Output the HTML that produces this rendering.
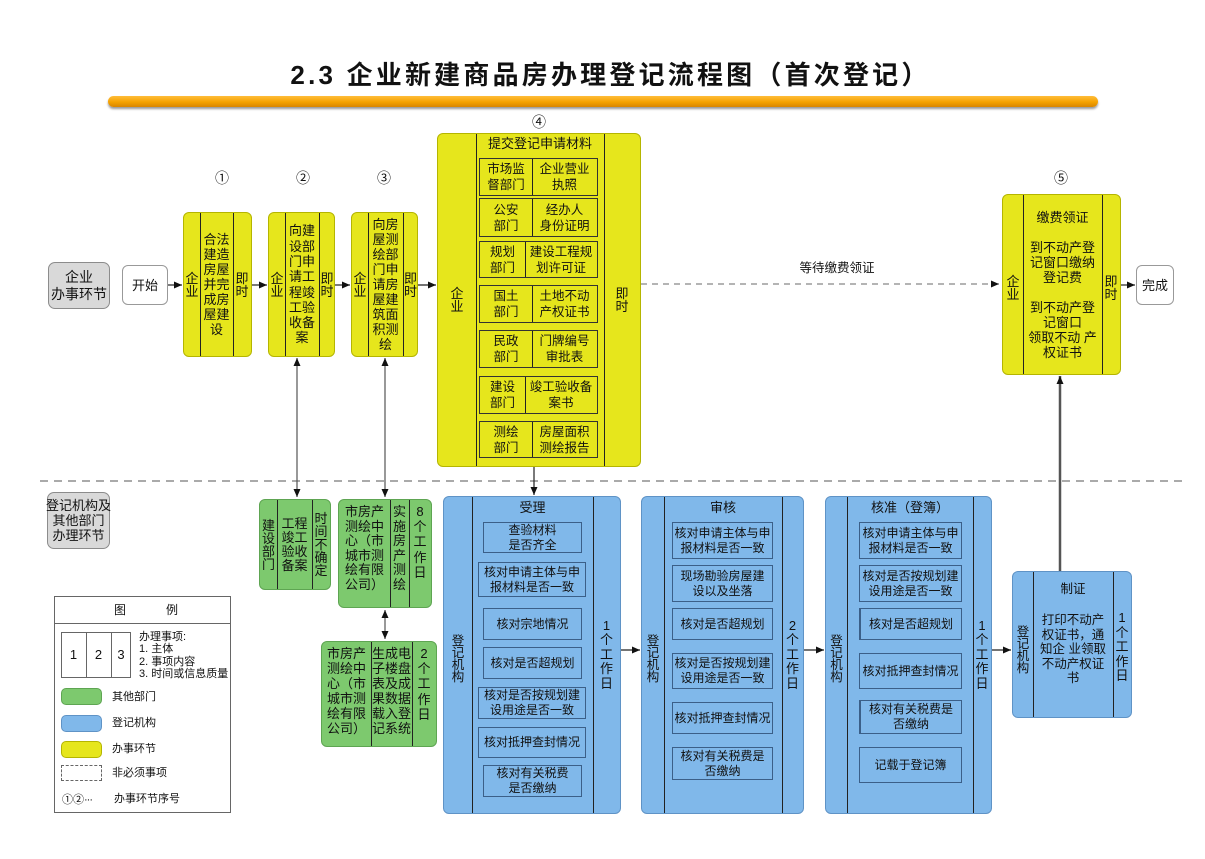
<!DOCTYPE html>
<html><head><meta charset="utf-8">
<style>
body{margin:0;width:1205px;height:859px;background:#fff;position:relative;overflow:hidden;font-family:"Liberation Sans","Noto Sans CJK SC",sans-serif;color:#111}
.a{position:absolute}
.b{position:absolute;box-sizing:border-box;border-radius:6px}
.yl{background:#e6e61c;border:1px solid #b5b500}
.bl{background:#80b8ea;border:1px solid #5f93c6}
.gr{background:#7dc96e;border:1px solid #5ea552}
.gy{background:#d9d9d9;border:1px solid #8c8c8c;border-radius:7px}
.wh{background:#fff;border:1px solid #999}
.d{position:absolute;top:0;bottom:0;border-left:1px solid #222}
.c{position:absolute;top:0;bottom:0;display:flex;flex-direction:column;align-items:center;justify-content:center;text-align:center;font-size:13px;line-height:15px;white-space:nowrap}
.v{font-size:13px;line-height:13px}
.vb{font-size:12.5px;line-height:12px}
.t{justify-content:flex-start}
.s{position:absolute;box-sizing:border-box;border:1px solid #3b5f88;display:flex;align-items:center;justify-content:center;text-align:center;font-size:12px;line-height:15px;white-space:nowrap}
.s4{position:absolute;box-sizing:border-box;border:1px solid #333;}
.s4 .c{font-size:12.5px;line-height:16px}
.n{position:absolute;font-size:14px;line-height:16px;transform:translate(-50%,-50%);font-family:"Noto Sans CJK SC","DejaVu Sans",sans-serif}
.lg{position:absolute;font-size:11px;line-height:12px;white-space:nowrap}
</style></head><body>

<!-- title -->
<div class="a" style="left:8px;width:1205px;top:58px;text-align:center;font-size:26px;line-height:34px;font-weight:bold;letter-spacing:3.2px;font-family:'Liberation Sans','Noto Sans CJK SC',sans-serif">2.3 企业新建商品房办理登记流程图（首次登记）</div>
<div class="a" style="left:108px;top:96px;width:990px;height:11px;border-radius:6px;background:linear-gradient(#ffbd3a,#f5a200 55%,#d88600);box-shadow:0 2px 2px #999"></div>

<!-- circled numbers -->
<div class="n" style="left:222px;top:178px">①</div>
<div class="n" style="left:303px;top:178px">②</div>
<div class="n" style="left:384px;top:178px">③</div>
<div class="n" style="left:539px;top:122px">④</div>
<div class="n" style="left:1061px;top:178px">⑤</div>

<!-- left labels -->
<div class="b gy" style="left:48px;top:262px;width:62px;height:47px"><div class="c" style="left:0;right:0;font-size:14px;line-height:17px">企业<br>办事环节</div></div>
<div class="b wh" style="left:122px;top:265px;width:46px;height:40px"><div class="c" style="left:0;right:0">开始</div></div>

<!-- box 1 -->
<div class="b yl" style="left:183px;top:212px;width:69px;height:145px">
<div class="d" style="left:16px"></div><div class="d" style="left:49px"></div>
<div class="c v" style="left:0;width:16px">企<br>业</div>
<div class="c" style="left:16px;width:33px">合法<br>建造<br>房屋<br>并完<br>成房<br>屋建<br>设</div>
<div class="c v" style="left:49px;width:18px">即<br>时</div>
</div>
<!-- box 2 -->
<div class="b yl" style="left:268px;top:212px;width:67px;height:145px">
<div class="d" style="left:16px"></div><div class="d" style="left:50px"></div>
<div class="c v" style="left:0;width:16px">企<br>业</div>
<div class="c" style="left:16px;width:34px;line-height:15.3px">向建<br>设部<br>门申<br>请工<br>程竣<br>工验<br>收备<br>案</div>
<div class="c v" style="left:50px;width:16px">即<br>时</div>
</div>
<!-- box 3 -->
<div class="b yl" style="left:351px;top:212px;width:67px;height:145px">
<div class="d" style="left:16px"></div><div class="d" style="left:51px"></div>
<div class="c v" style="left:0;width:16px">企<br>业</div>
<div class="c" style="left:16px;width:35px;line-height:15.1px">向房<br>屋测<br>绘部<br>门申<br>请房<br>屋建<br>筑面<br>积测<br>绘</div>
<div class="c v" style="left:51px;width:15px">即<br>时</div>
</div>

<!-- box 4 -->
<div class="b yl" style="left:437px;top:133px;width:204px;height:334px">
<div class="d" style="left:38px"></div><div class="d" style="left:166px"></div>
<div class="c v" style="left:0;width:38px">企<br>业</div>
<div class="c v" style="left:166px;width:36px">即<br>时</div>
<div class="a" style="left:38px;width:128px;top:2px;text-align:center;font-size:13px;line-height:16px">提交登记申请材料</div>
<div class="s4" style="left:41px;top:24px;width:119px;height:38px"><div class="d" style="left:52px"></div><div class="c" style="left:0;width:52px">市场监<br>督部门</div><div class="c" style="left:52px;right:0">企业营业<br>执照</div></div>
<div class="s4" style="left:41px;top:64px;width:119px;height:39px"><div class="d" style="left:52px"></div><div class="c" style="left:0;width:52px">公安<br>部门</div><div class="c" style="left:52px;right:0">经办人<br>身份证明</div></div>
<div class="s4" style="left:41px;top:107px;width:119px;height:37px"><div class="d" style="left:45px"></div><div class="c" style="left:0;width:45px">规划<br>部门</div><div class="c" style="left:45px;right:0">建设工程规<br>划许可证</div></div>
<div class="s4" style="left:41px;top:151px;width:119px;height:38px"><div class="d" style="left:52px"></div><div class="c" style="left:0;width:52px">国土<br>部门</div><div class="c" style="left:52px;right:0">土地不动<br>产权证书</div></div>
<div class="s4" style="left:41px;top:196px;width:119px;height:38px"><div class="d" style="left:52px"></div><div class="c" style="left:0;width:52px">民政<br>部门</div><div class="c" style="left:52px;right:0">门牌编号<br>审批表</div></div>
<div class="s4" style="left:41px;top:242px;width:119px;height:38px"><div class="d" style="left:45px"></div><div class="c" style="left:0;width:45px">建设<br>部门</div><div class="c" style="left:45px;right:0">竣工验收备<br>案书</div></div>
<div class="s4" style="left:41px;top:287px;width:119px;height:37px"><div class="d" style="left:52px"></div><div class="c" style="left:0;width:52px">测绘<br>部门</div><div class="c" style="left:52px;right:0">房屋面积<br>测绘报告</div></div>
</div>

<div class="a" style="left:777px;width:120px;top:259px;text-align:center;font-size:12.5px;line-height:18px">等待缴费领证</div>

<!-- box 5 -->
<div class="b yl" style="left:1002px;top:194px;width:119px;height:181px">
<div class="d" style="left:20px"></div><div class="d" style="left:99px"></div>
<div class="c v" style="left:0;width:20px;padding-top:6px">企<br>业</div>
<div class="c" style="left:20px;width:79px">缴费领证<br>&nbsp;<br>到不动产登<br>记窗口缴纳<br>登记费<br>&nbsp;<br>到不动产登<br>记窗口<br>领取不动 产<br>权证书</div>
<div class="c v" style="left:99px;width:18px;padding-top:6px">即<br>时</div>
</div>
<div class="b wh" style="left:1136px;top:265px;width:38px;height:40px"><div class="c" style="left:0;right:0">完成</div></div>

<!-- bottom left label -->
<div class="b gy" style="left:47px;top:492px;width:63px;height:57px"><div class="c" style="left:-3px;right:-3px">登记机构及<br>其他部门<br>办理环节</div></div>

<!-- green boxes -->
<div class="b gr" style="left:259px;top:499px;width:72px;height:91px">
<div class="d" style="left:17px"></div><div class="d" style="left:52px"></div>
<div class="c v" style="left:0;width:17px">建<br>设<br>部<br>门</div>
<div class="c" style="left:17px;width:35px;line-height:14px">工程<br>竣工<br>验收<br>备案</div>
<div class="c v" style="left:52px;width:18px">时<br>间<br>不<br>确<br>定</div>
</div>
<div class="b gr" style="left:338px;top:499px;width:94px;height:109px">
<div class="d" style="left:51px"></div><div class="d" style="left:70px"></div>
<div class="c t" style="left:0;width:51px;padding-top:5px;line-height:14.6px">市房产<br>测绘中<br>心（市<br>城市测<br>绘有限<br>公司）</div>
<div class="c t" style="left:51px;width:19px;padding-top:5px;line-height:14.6px">实<br>施<br>房<br>产<br>测<br>绘</div>
<div class="c t" style="left:70px;width:22px;padding-top:4px;line-height:15.2px">8<br>个<br>工<br>作<br>日</div>
</div>
<div class="b gr" style="left:321px;top:641px;width:116px;height:106px">
<div class="d" style="left:49px"></div><div class="d" style="left:90px"></div>
<div class="c t" style="left:0;width:49px;padding-top:4px">市房产<br>测绘中<br>心（市<br>城市测<br>绘有限<br>公司）</div>
<div class="c t" style="left:49px;width:41px;padding-top:4px">生成电<br>子楼盘<br>表及成<br>果数据<br>载入登<br>记系统</div>
<div class="c t" style="left:90px;width:24px;padding-top:4px;line-height:15.2px">2<br>个<br>工<br>作<br>日</div>
</div>

<!-- 受理 -->
<div class="b bl" style="left:443px;top:496px;width:178px;height:318px">
<div class="d" style="left:28px"></div><div class="d" style="left:149px"></div>
<div class="c vb" style="left:0;width:28px;padding-top:8px">登<br>记<br>机<br>构</div>
<div class="c" style="left:149px;width:27px;line-height:14.6px">1<br>个<br>工<br>作<br>日</div>
<div class="a" style="left:28px;width:121px;top:3px;text-align:center;font-size:13px;line-height:16px">受理</div>
<div class="s" style="left:39px;top:25px;width:99px;height:31px">查验材料<br>是否齐全</div>
<div class="s" style="left:34px;top:65px;width:108px;height:35px">核对申请主体与申<br>报材料是否一致</div>
<div class="s" style="left:39px;top:111px;width:99px;height:32px">核对宗地情况</div>
<div class="s" style="left:39px;top:150px;width:99px;height:32px">核对是否超规划</div>
<div class="s" style="left:34px;top:190px;width:108px;height:32px">核对是否按规划建<br>设用途是否一致</div>
<div class="s" style="left:34px;top:230px;width:108px;height:31px">核对抵押查封情况</div>
<div class="s" style="left:39px;top:268px;width:99px;height:32px">核对有关税费<br>是否缴纳</div>
</div>

<!-- 审核 -->
<div class="b bl" style="left:641px;top:496px;width:163px;height:318px">
<div class="d" style="left:22px"></div><div class="d" style="left:140px"></div>
<div class="c vb" style="left:0;width:22px;padding-top:8px">登<br>记<br>机<br>构</div>
<div class="c" style="left:140px;width:21px;line-height:14.6px">2<br>个<br>工<br>作<br>日</div>
<div class="a" style="left:22px;width:118px;top:3px;text-align:center;font-size:13px;line-height:16px">审核</div>
<div class="s" style="left:30px;top:25px;width:101px;height:37px">核对申请主体与申<br>报材料是否一致</div>
<div class="s" style="left:30px;top:68px;width:101px;height:37px">现场勘验房屋建<br>设以及坐落</div>
<div class="s" style="left:30px;top:111px;width:101px;height:32px">核对是否超规划</div>
<div class="s" style="left:30px;top:156px;width:101px;height:36px">核对是否按规划建<br>设用途是否一致</div>
<div class="s" style="left:30px;top:205px;width:101px;height:32px">核对抵押查封情况</div>
<div class="s" style="left:30px;top:250px;width:101px;height:33px">核对有关税费是<br>否缴纳</div>
</div>

<!-- 核准 -->
<div class="b bl" style="left:825px;top:496px;width:167px;height:318px">
<div class="d" style="left:21px"></div><div class="d" style="left:147px"></div>
<div class="c vb" style="left:0;width:21px;padding-top:8px">登<br>记<br>机<br>构</div>
<div class="c" style="left:147px;width:18px;line-height:14.6px">1<br>个<br>工<br>作<br>日</div>
<div class="a" style="left:21px;width:126px;top:3px;text-align:center;font-size:13px;line-height:16px">核准（登簿）</div>
<div class="s" style="left:33px;top:25px;width:103px;height:37px">核对申请主体与申<br>报材料是否一致</div>
<div class="s" style="left:33px;top:68px;width:103px;height:37px">核对是否按规划建<br>设用途是否一致</div>
<div class="s" style="left:33px;top:111px;width:103px;height:32px;border-left-width:2px">核对是否超规划</div>
<div class="s" style="left:33px;top:156px;width:103px;height:36px">核对抵押查封情况</div>
<div class="s" style="left:33px;top:203px;width:103px;height:34px;border-left-width:2px">核对有关税费是<br>否缴纳</div>
<div class="s" style="left:33px;top:250px;width:103px;height:36px">记载于登记簿</div>
</div>

<!-- 制证 -->
<div class="b bl" style="left:1012px;top:571px;width:120px;height:147px">
<div class="d" style="left:20px"></div><div class="d" style="left:100px"></div>
<div class="c vb" style="left:0;width:20px;padding-top:10px">登<br>记<br>机<br>构</div>
<div class="c" style="left:100px;width:18px;line-height:14.6px;padding-top:6px">1<br>个<br>工<br>作<br>日</div>
<div class="a" style="left:20px;width:80px;top:9px;text-align:center;font-size:12.5px;line-height:16px">制证</div>
<div class="a" style="left:20px;width:80px;top:41px;text-align:center;font-size:12.5px;line-height:14.5px;white-space:nowrap">打印不动产<br>权证书，通<br>知企 业领取<br>不动产权证<br>书</div>
</div>

<!-- legend -->
<div class="a" style="left:54px;top:596px;width:177px;height:217px;box-sizing:border-box;border:1px solid #666"></div>
<div class="a" style="left:54px;top:623px;width:177px;border-top:1px solid #666"></div>
<div class="lg" style="left:114px;top:604px;font-size:12px">图</div>
<div class="lg" style="left:166px;top:604px;font-size:12px">例</div>
<div class="a" style="left:61px;top:632px;width:70px;height:46px;box-sizing:border-box;border:1px solid #666"></div>
<div class="a" style="left:86px;top:632px;height:46px;border-left:1px solid #666"></div>
<div class="a" style="left:111px;top:632px;height:46px;border-left:1px solid #666"></div>
<div class="lg" style="left:61px;width:25px;top:648px;text-align:center;font-size:13px;line-height:14px">1</div>
<div class="lg" style="left:86px;width:25px;top:648px;text-align:center;font-size:13px;line-height:14px">2</div>
<div class="lg" style="left:111px;width:20px;top:648px;text-align:center;font-size:13px;line-height:14px">3</div>
<div class="lg" style="left:139px;top:631px;line-height:12.3px">办理事项:<br>1. 主体<br>2. 事项内容<br>3. 时间或信息质量</div>
<div class="a" style="left:61px;top:688px;width:41px;height:17px;border-radius:5px;background:#7dc96e;border:1px solid #5ea552;box-sizing:border-box"></div>
<div class="lg" style="left:112px;top:691px">其他部门</div>
<div class="a" style="left:61px;top:715px;width:41px;height:17px;border-radius:5px;background:#80b8ea;border:1px solid #5f93c6;box-sizing:border-box"></div>
<div class="lg" style="left:112px;top:717px">登记机构</div>
<div class="a" style="left:61px;top:741px;width:41px;height:17px;border-radius:5px;background:#e6e61c;border:1px solid #b5b500;box-sizing:border-box"></div>
<div class="lg" style="left:112px;top:743px">办事环节</div>
<div class="a" style="left:61px;top:765px;width:41px;height:16px;border:1px dashed #666;box-sizing:border-box"></div>
<div class="lg" style="left:112px;top:767px">非必须事项</div>
<div class="lg" style="left:62px;top:793px;font-size:11px;font-family:'Noto Sans CJK SC',sans-serif">①②<span style="font-family:'Liberation Sans',sans-serif;letter-spacing:-1px">···</span></div>
<div class="lg" style="left:114px;top:793px">办事环节序号</div>

<!-- connectors -->
<svg class="a" style="left:0;top:0" width="1205" height="859" viewBox="0 0 1205 859">
<defs>
<marker id="ar" markerUnits="userSpaceOnUse" markerWidth="8" markerHeight="7" refX="8" refY="3.5" orient="auto-start-reverse"><path d="M0,0 L8,3.5 L0,7 z" fill="#111"/></marker>
</defs>
<line x1="40" y1="481" x2="1185" y2="481" stroke="#777" stroke-width="1.2" stroke-dasharray="8 6"/>
<g stroke="#222" stroke-width="1.2" fill="none">
<line x1="168" y1="285" x2="182" y2="285" marker-end="url(#ar)"/>
<line x1="252" y1="285" x2="267" y2="285" marker-end="url(#ar)"/>
<line x1="335" y1="285" x2="350" y2="285" marker-end="url(#ar)"/>
<line x1="418" y1="285" x2="436" y2="285" marker-end="url(#ar)"/>
<line x1="1121" y1="285" x2="1135" y2="285" marker-end="url(#ar)"/>
<line x1="621" y1="650" x2="640" y2="650" marker-end="url(#ar)"/>
<line x1="804" y1="650" x2="824" y2="650" marker-end="url(#ar)"/>
<line x1="992" y1="650" x2="1011" y2="650" marker-end="url(#ar)"/>
<line x1="534" y1="467" x2="534" y2="495" marker-end="url(#ar)"/>
</g>
<line x1="641" y1="284" x2="999" y2="284" stroke="#888" stroke-width="1.2" stroke-dasharray="6 5" marker-end="url(#ar)"/>
<g stroke="#555" stroke-width="1.2">
<line x1="297" y1="358" x2="297" y2="497" marker-start="url(#ar)" marker-end="url(#ar)"/>
<line x1="385" y1="358" x2="385" y2="497" marker-start="url(#ar)" marker-end="url(#ar)"/>
<line x1="385" y1="610" x2="385" y2="639" marker-start="url(#ar)" marker-end="url(#ar)"/>
</g>
<line x1="1060" y1="571" x2="1060" y2="376" stroke="#555" stroke-width="2.5" marker-end="url(#ar)"/>
</svg>
</body></html>
